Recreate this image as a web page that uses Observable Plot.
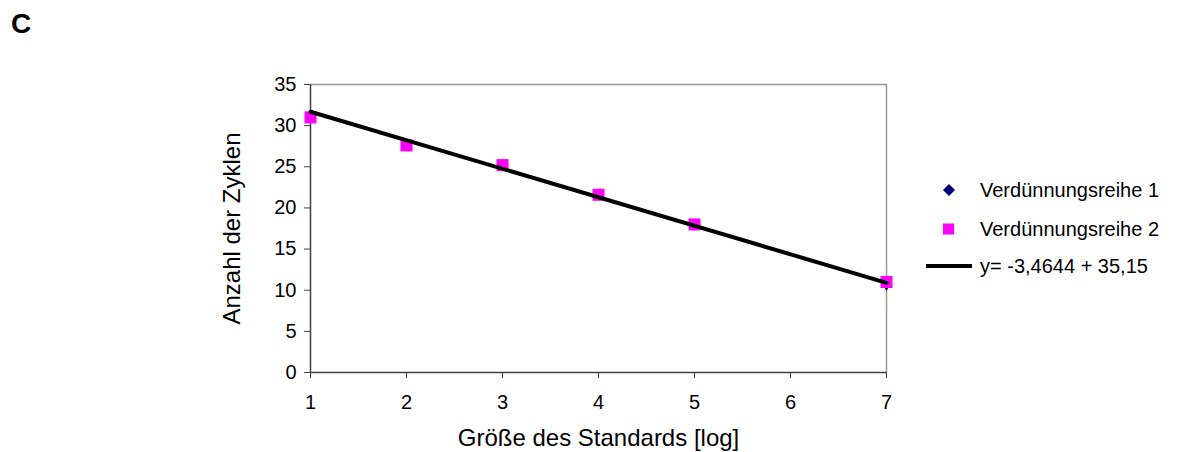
<!DOCTYPE html>
<html><head><meta charset="utf-8">
<script src="https://cdn.jsdelivr.net/npm/d3@7"></script>
<script src="https://cdn.jsdelivr.net/npm/@observablehq/plot@0.6"></script>
<style>
body{margin:0;background:#fff;font-family:"Liberation Sans",Arial,sans-serif;}
#wrap{position:relative;width:1177px;height:452px;}
#panel{position:absolute;left:11px;top:8px;font-size:28px;font-weight:bold;color:#000;}
.leg{position:absolute;left:922px;font-size:20px;color:#000;display:flex;align-items:center;height:20px;white-space:nowrap;}
.leg svg{width:52px;height:20px;margin-right:6px;flex:none;}
svg text{fill:#000;}
</style>
</head><body>
<div id="wrap"><div id="panel">C</div></div>
<script>
const xStd = [1, 2, 3, 4, 5, 7];
const series1 = [31.0, 27.7, 25.2, 21.6, 17.9, 10.6];
const series2 = [31.0, 27.6, 25.2, 21.6, 18.0, 11.0];
const fitX = [1, 7];
const fitY = [31.69, 10.90];
const xTicks = [1, 2, 3, 4, 5, 6, 7];
const yTicks = [0, 5, 10, 15, 20, 25, 30, 35];
const seriesNames = ["Verdünnungsreihe 1", "Verdünnungsreihe 2", "y= -3,4644 + 35,15"];

const d1 = xStd.map((x, i) => ({x, y: series1[i]}));
const d2 = xStd.map((x, i) => ({x, y: series2[i]}));
const fit = fitX.map((x, i) => ({x, y: fitY[i]}));

const chart = Plot.plot({
  width: 1177, height: 452,
  marginLeft: 310, marginRight: 291, marginTop: 84, marginBottom: 80,
  style: {fontFamily: '"Liberation Sans", Arial, sans-serif', background: "transparent", overflow: "visible"},
  x: {domain: [1, 7]},
  y: {domain: [0, 35]},
  marks: [
    Plot.ruleY([35], {stroke: "#999", strokeWidth: 1.5}),
    Plot.ruleX([7], {stroke: "#999", strokeWidth: 1.5}),
    Plot.ruleX([1], {stroke: "#404040", strokeWidth: 1.5}),
    Plot.ruleY([0], {stroke: "#404040", strokeWidth: 1.5}),
    Plot.axisY({ticks: yTicks, tickSize: 6, tickPadding: 8, fontSize: 20, label: null, stroke: "#404040", tickFormat: d => String(d)}),
    Plot.axisX({ticks: xTicks, tickSize: 6, tickPadding: 16, fontSize: 20, label: null, stroke: "#404040", tickFormat: d => String(d)}),
    Plot.text(["Anzahl der Zyklen"], {frameAnchor: "left", textAnchor: "middle", lineAnchor: "middle", dx: -78, rotate: -90, fontSize: 24, fill: "#000"}),
    Plot.text(["Größe des Standards [log]"], {frameAnchor: "bottom", textAnchor: "middle", lineAnchor: "middle", dy: 66, fontSize: 24, fill: "#000"}),
    Plot.dot(d1, {x: "x", y: "y", symbol: "diamond", r: 3.5, fill: "#000080", stroke: "none"}),
    Plot.dot(d2, {x: "x", y: "y", symbol: "square", r: 6.8, fill: "#ff00ff", stroke: "none"}),
    Plot.line(fit, {x: "x", y: "y", stroke: "#000", strokeWidth: 4})
  ]
});
const wrap = document.getElementById("wrap");
chart.style.position = "absolute";
chart.style.left = "0";
chart.style.top = "0";
wrap.appendChild(chart);

const legItems = [
  {top: 180, sym: '<path d="M27,4 L33,10 L27,16 L21,10 Z" fill="#000080"/>'},
  {top: 219, sym: '<rect x="21" y="4.5" width="11" height="11" fill="#ff00ff"/>'},
  {top: 256, sym: '<line x1="4" y1="10" x2="50" y2="10" stroke="#000" stroke-width="4"/>'}
];
legItems.forEach((it, i) => {
  const div = document.createElement("div");
  div.className = "leg";
  div.style.top = it.top + "px";
  div.innerHTML = '<svg viewBox="0 0 52 20">' + it.sym + '</svg><span>' + seriesNames[i] + '</span>';
  wrap.appendChild(div);
});
</script>
</body></html>
